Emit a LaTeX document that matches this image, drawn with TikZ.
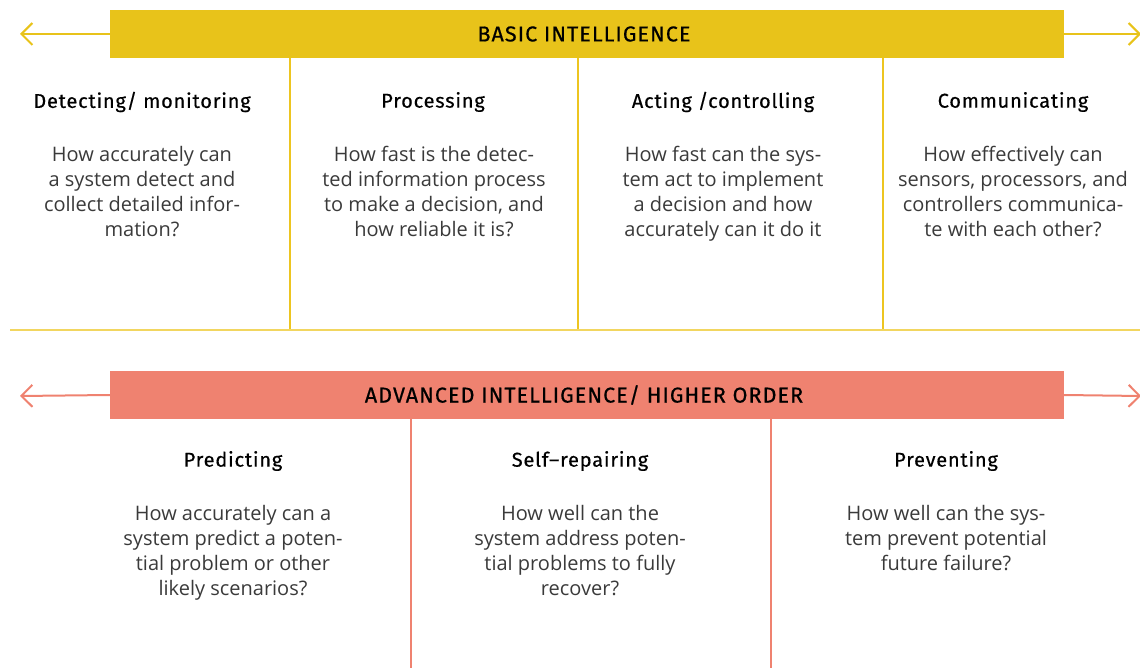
\documentclass[tikz,border=0pt]{standalone}
\usepackage{fontspec}
\setmainfont{Open Sans}
\newfontfamily\headfont[FakeBold=0.5,LetterSpace=4]{Fira Sans}
\newfontfamily\barfont[FakeBold=0.6,LetterSpace=5]{Fira Sans}
\usetikzlibrary{arrows.meta}
\definecolor{ybar}{HTML}{E8C31A}
\definecolor{yline}{HTML}{EDC520}
\definecolor{ylight}{HTML}{F2D660}
\definecolor{rbar}{HTML}{EF8270}
\definecolor{bodytxt}{HTML}{3A3A3A}
\tikzset{
  bar/.style={minimum width=954pt, minimum height=48pt, inner sep=0pt, fill=#1},
  bartext/.style={font=\barfont\fontsize{21.5}{24}\selectfont, text=black, inner sep=0pt},
  head/.style={font=\headfont\fontsize{20}{24}\selectfont, text=black, inner sep=0pt},
  body/.style={font=\fontsize{20}{25}\selectfont, text=bodytxt, align=center, inner sep=0pt},
  sidearrow/.style={line width=2pt, -{Straight Barb[length=11pt, width=22pt, line width=2pt]}},
}
\begin{document}
\begin{tikzpicture}[x=1pt, y=-1pt]
\useasboundingbox (0,0) rectangle (1140,668);
% ---- basic
\node[bar=ybar] (basic) at (587,34) {};
\node[bartext] (basict) at (584,34) {BASIC INTELLIGENCE};
\coordinate (bl) at (20,34);
\coordinate (br) at (1141,34);
\draw[sidearrow, draw=ybar] (basic.west) -- (bl);
\draw[sidearrow, draw=ybar] (basic.east) -- (br);
\coordinate (v1t) at (290,58); \coordinate (v1b) at (290,330);
\coordinate (v2t) at (578,58); \coordinate (v2b) at (578,330);
\coordinate (v3t) at (883,58); \coordinate (v3b) at (883,330);
\draw[yline, line width=1.4pt] (v1t) -- (v1b) (v2t) -- (v2b) (v3t) -- (v3b);
\coordinate (hl) at (10,330); \coordinate (hr) at (1140,330);
\draw[ylight, line width=2pt] (hl) -- (hr);

\node[head] (h1) at (142,102) {Detecting/ monitoring};
\node[head] (h2) at (433,102) {Processing};
\node[head] (h3) at (723,102) {Acting /controlling};
\node[head] (h4) at (1013,102) {Communicating};

\node[body, anchor=north] (b1) at (142,146) {How accurately can\\a system detect and\\collect detailed infor-\\mation?};
\node[body, anchor=north] (b2) at (434,146) {How fast is the detec-\\ted information process\\to make a decision, and\\how reliable it is?};
\node[body, anchor=north] (b3) at (723,146) {How fast can the sys-\\tem act to implement\\a decision and how\\accurately can it do it};
\node[body, anchor=north] (b4) at (1013,146) {How effectively can\\sensors, processors, and\\controllers communica-\\te with each other?};

% ---- advanced
\node[bar=rbar] (adv) at (587,395) {};
\node[bartext] (advt) at (584,395) {ADVANCED INTELLIGENCE/ HIGHER ORDER};
\coordinate (al) at (20,396);
\coordinate (ar) at (1141,396);
\draw[sidearrow, draw=rbar] (adv.west) -- (al);
\draw[sidearrow, draw=rbar] (adv.east) -- (ar);
\coordinate (w1t) at (411,419); \coordinate (w1b) at (411,668);
\coordinate (w2t) at (771,419); \coordinate (w2b) at (771,668);
\draw[rbar, line width=1.4pt] (w1t) -- (w1b) (w2t) -- (w2b);

\node[head] (p1) at (233,461) {Predicting};
\node[head] (p2) at (580,461) {Self{\textendash}repairing};
\node[head] (p3) at (946,461) {Preventing};

\node[body, anchor=north] (c1) at (233,505) {How accurately can a\\system predict a poten-\\tial problem or other\\likely scenarios?};
\node[body, anchor=north] (c2) at (580,505) {How well can the\\system address poten-\\tial problems to fully\\recover?};
\node[body, anchor=north] (c3) at (946,505) {How well can the sys-\\tem prevent potential\\future failure?};
\end{tikzpicture}
\end{document}
